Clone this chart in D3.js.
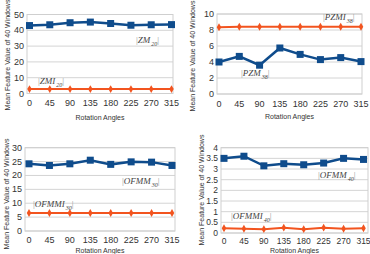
<!DOCTYPE html>
<html>
<head>
<meta charset="utf-8">
<script src="https://cdn.jsdelivr.net/npm/d3@7"></script>
<style>
  body { margin: 0; background: #fff; }
  svg { display: block; font-family: "Liberation Sans", Arial, sans-serif; }
</style>
</head>
<body>
<svg id="chart" width="370" height="254"></svg>
<script>
// rotation angles (x categories)
const angles = [0, 45, 90, 135, 180, 225, 270, 315];

// series values
const zm20 = [43, 43.5, 44.8, 45.2, 44.3, 43.2, 43.5, 43.6];
const zmi20 = [2.8, 2.8, 2.8, 2.8, 2.8, 2.8, 2.8, 2.8];
const pzm38 = [4.0, 4.7, 3.6, 5.75, 4.95, 4.3, 4.55, 4.05];
const pzmi38 = [8.35, 8.4, 8.4, 8.4, 8.4, 8.4, 8.4, 8.4];
const ofmm30 = [24.2, 23.6, 24.2, 25.5, 24.0, 24.9, 24.8, 23.6];
const ofmmi30 = [6.5, 6.5, 6.5, 6.5, 6.5, 6.5, 6.5, 6.5];
const ofmm40 = [3.5, 3.6, 3.15, 3.25, 3.2, 3.28, 3.5, 3.45];
const ofmmi40 = [0.22, 0.2, 0.18, 0.25, 0.18, 0.25, 0.2, 0.22];

// y tick labels
const ticksA = [0, 10, 20, 30, 40, 50];
const ticksB = [0, 2, 4, 6, 8, 10];
const ticksC = [0, 5, 10, 15, 20, 25, 30];
const ticksD = [0, 0.5, 1, 1.5, 2, 2.5, 3, 3.5, 4];

const yTitle = 'Mean Feature Value of 40 Windows';
const xTitle = 'Rotation Angles';

const BLUE = '#0f4c8c';
const ORANGE = '#f2541f';

const svg = d3.select('#chart');

// one entry per sub chart: data plus where it sits in the picture
const panels = [
  { blue: zm20, orange: zmi20, ticks: ticksA, fs: 9,
    box: [27, 173, 14.5, 93.5], px: [29.5, 171.5], tickY: 106, titleY: 120, yTitleX: 8, yTitleC: 55,
    labels: [{ name: 'ZM', sub: '20', x: 136, y: 43 }, { name: 'ZMI', sub: '20', x: 38, y: 84 }] },
  { blue: pzm38, orange: pzmi38, ticks: ticksB, fs: 9,
    box: [217, 362, 14, 94], px: [219, 361], tickY: 107, titleY: 119, yTitleX: 193, yTitleC: 56,
    labels: [{ name: 'PZM', sub: '38', x: 241, y: 76 }, { name: 'PZMI', sub: '38', x: 323, y: 20 }] },
  { blue: ofmm30, orange: ofmmi30, ticks: ticksC, fs: 9,
    box: [25, 175, 147.7, 231], px: [29, 172], tickY: 243, titleY: 252.5, yTitleX: 7, yTitleC: 194,
    labels: [{ name: 'OFMM', sub: '30', x: 122, y: 184 }, { name: 'OFMMI', sub: '30', x: 33, y: 207 }] },
  { blue: ofmm40, orange: ofmmi40, ticks: ticksD, fs: 8.5,
    box: [221, 368, 147.7, 233], px: [224, 363.5], tickY: 244, titleY: 253, yTitleX: 202, yTitleC: 190,
    labels: [{ name: 'OFMM', sub: '40', x: 318, y: 178 }, { name: 'OFMMI', sub: '40', x: 231, y: 219 }] }
];

panels.forEach(p => {
  const [left, right, top, bottom] = p.box;
  const g = svg.append('g');

  const x = d3.scaleLinear().domain([0, 315]).range(p.px);
  const y = d3.scaleLinear().domain([0, d3.max(p.ticks)]).range([bottom, top]);

  // gridlines
  g.selectAll('.grid').data(p.ticks).join('line')
    .attr('x1', left).attr('x2', right)
    .attr('y1', d => y(d)).attr('y2', d => y(d))
    .attr('stroke', '#d4d4d4').attr('stroke-width', 1);

  // plot frame
  g.append('rect')
    .attr('x', left).attr('y', top)
    .attr('width', right - left).attr('height', bottom - top)
    .attr('fill', 'none').attr('stroke', '#cfcfcf');

  // y tick labels
  g.selectAll('.yt').data(p.ticks).join('text')
    .attr('x', left - 3).attr('y', d => y(d) + 3)
    .attr('text-anchor', 'end')
    .attr('font-size', p.fs).attr('fill', '#333')
    .text(d => d);

  // x tick labels
  g.selectAll('.xt').data(angles).join('text')
    .attr('x', d => x(d)).attr('y', p.tickY)
    .attr('text-anchor', 'middle')
    .attr('font-size', p.fs).attr('fill', '#333')
    .text(d => d);

  g.append('text')
    .attr('x', (left + right) / 2).attr('y', p.titleY)
    .attr('text-anchor', 'middle')
    .attr('font-size', 7).attr('fill', '#333')
    .text(xTitle);

  g.append('text')
    .attr('transform', `translate(${p.yTitleX},${p.yTitleC}) rotate(-90)`)
    .attr('text-anchor', 'middle')
    .attr('dy', '0.35em')
    .attr('font-size', 7).attr('fill', '#333')
    .text(yTitle);

  const line = d3.line().x((d, i) => x(angles[i])).y(d => y(d));

  // orange series with small diamonds
  g.append('path').datum(p.orange)
    .attr('d', line).attr('fill', 'none')
    .attr('stroke', ORANGE).attr('stroke-width', 2);
  g.selectAll('.om').data(p.orange).join('path')
    .attr('transform', (d, i) => `translate(${x(angles[i])},${y(d)})`)
    .attr('d', d3.symbol(d3.symbolDiamond, 18))
    .attr('fill', ORANGE);

  // blue series with squares
  g.append('path').datum(p.blue)
    .attr('d', line).attr('fill', 'none')
    .attr('stroke', BLUE).attr('stroke-width', 2.5);
  g.selectAll('.bm').data(p.blue).join('rect')
    .attr('x', (d, i) => x(angles[i]) - 3.5)
    .attr('y', d => y(d) - 3.5)
    .attr('width', 7).attr('height', 7)
    .attr('fill', BLUE);

  // |name sub| labels
  p.labels.forEach(l => {
    const t = g.append('text')
      .attr('x', l.x).attr('y', l.y)
      .attr('font-family', '"Liberation Serif", "Times New Roman", serif')
      .attr('font-style', 'italic')
      .attr('font-size', 9).attr('fill', '#444');
    t.append('tspan').attr('font-style', 'normal').attr('fill', '#999').text('|');
    t.append('tspan').text(l.name);
    t.append('tspan').attr('font-size', 6).attr('dy', 2.5).attr('dx', 1).text(l.sub);
    t.append('tspan').attr('font-style', 'normal').attr('fill', '#999').attr('dy', -2.5).text('|');
  });
});
</script>
</body>
</html>
